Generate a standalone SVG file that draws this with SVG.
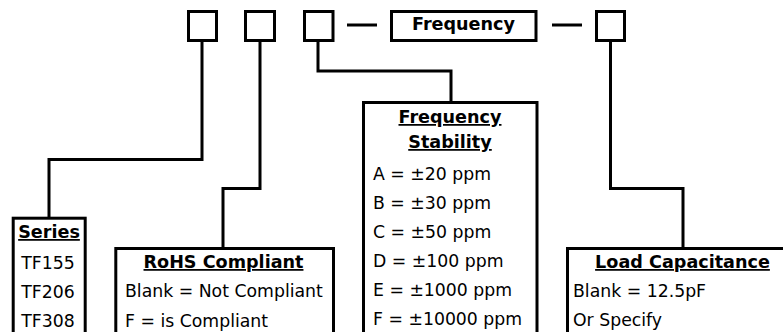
<svg xmlns="http://www.w3.org/2000/svg" width="783" height="332" viewBox="0 0 783 332">
<style>
.box{fill:#fff;stroke:#000;stroke-width:3}
.wire{fill:none;stroke:#000;stroke-width:3}
.t{font-family:"DejaVu Sans",Verdana,sans-serif;font-size:17.3px;fill:#000}
.h{font-family:"DejaVu Sans",Verdana,sans-serif;font-size:17.6px;font-weight:bold;fill:#000}
.u{text-decoration:underline}
.m{text-anchor:middle}
</style>
<rect width="783" height="332" fill="#fff"/>
<g id="connectors">
<path class="wire" d="M202 41 V159.5 H49 V218"/>
<path class="wire" d="M260 41 V188.5 H223 V248"/>
<path class="wire" d="M318 41 V71 H451 V102"/>
<path class="wire" d="M610.5 41 V188.5 H683 V248"/>
<path class="wire" d="M347 25 H377"/>
<path class="wire" d="M552 25 H582"/>
</g>
<g id="slot1"><rect class="box" x="188.5" y="11.5" width="28" height="29"/></g>
<g id="slot2"><rect class="box" x="245.5" y="11.5" width="29" height="29"/></g>
<g id="slot3"><rect class="box" x="304.5" y="11.5" width="28.5" height="29"/></g>
<g id="frequency"><rect class="box" x="391.5" y="11.5" width="144.5" height="29"/>
<text class="h m" x="463.5" y="30">Frequency</text></g>
<g id="slot5"><rect class="box" x="596.5" y="11.5" width="28" height="29"/></g>
<g id="series"><rect class="box" x="13.2" y="218.2" width="72" height="130"/>
<text class="h m u" x="49" y="238">Series</text>
<text class="t m" x="48" y="269">TF155</text>
<text class="t m" x="48" y="298">TF206</text>
<text class="t m" x="48" y="327">TF308</text></g>
<g id="rohs"><rect class="box" x="115.8" y="248.5" width="217.7" height="100"/>
<text class="h m u" x="223.5" y="268">RoHS Compliant</text>
<text class="t" x="125" y="297">Blank = Not Compliant</text>
<text class="t" x="125" y="327">F = is Compliant</text></g>
<g id="stability"><rect class="box" x="363.5" y="102.5" width="173.5" height="250"/>
<text class="h m u" x="450" y="123">Frequency</text>
<text class="h m u" x="450" y="148">Stability</text>
<text class="t" x="373" y="180">A = ±20 ppm</text>
<text class="t" x="373" y="209">B = ±30 ppm</text>
<text class="t" x="373" y="238">C = ±50 ppm</text>
<text class="t" x="373" y="267">D = ±100 ppm</text>
<text class="t" x="373" y="296">E = ±1000 ppm</text>
<text class="t" x="373" y="325">F = ±10000 ppm</text></g>
<g id="load"><rect class="box" x="567.5" y="248.5" width="240" height="100"/>
<text class="h m u" x="682.5" y="268">Load Capacitance</text>
<text class="t" x="573" y="297">Blank = 12.5pF</text>
<text class="t" x="573" y="326">Or Specify</text></g>
</svg>
